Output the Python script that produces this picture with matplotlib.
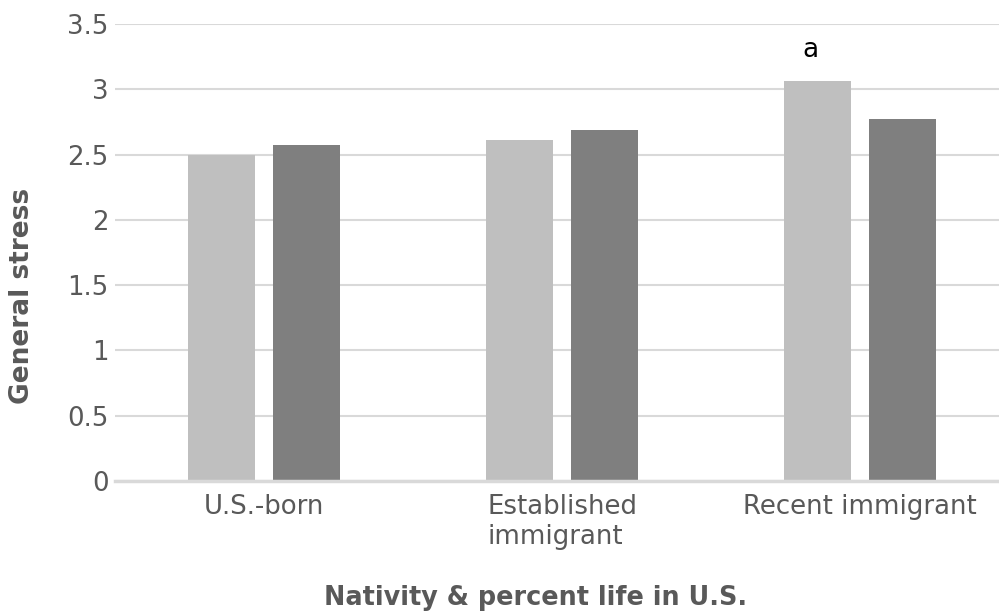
import matplotlib
matplotlib.use("Agg")
import matplotlib.pyplot as plt
import numpy as np

categories = ["U.S.-born", "Established\nimmigrant", "Recent immigrant"]
series_light = [2.50, 2.61, 3.06]
series_dark = [2.57, 2.69, 2.77]
annotations = ["", "", "a"]
y_ticks = [0, 0.5, 1, 1.5, 2, 2.5, 3, 3.5]
y_tick_labels = ["0", "0.5", "1", "1.5", "2", "2.5", "3", "3.5"]

plt.rcParams["font.family"] = ["DejaVu Sans"]

fig = plt.figure(figsize=(9.99, 6.13), dpi=100)
ax = fig.add_axes([115 / 999, 1 - 481 / 613, 894 / 999, (481 - 24) / 613])

x = np.arange(len(categories))
w = 0.225
off = 0.1426
ax.bar(x - off, series_light, width=w, color="#bfbfbf", zorder=3)
ax.bar(x + off, series_dark, width=w, color="#7f7f7f", zorder=3)

# significance marker above the light bar
for xi, v, t in zip(x, series_light, annotations):
    if t:
        ax.text(xi - off - 0.025, v + 0.145, t, ha="center", va="bottom",
                fontsize=19, color="black")

ax.set_xlim(-0.5, len(categories) - 0.5)
ax.set_ylim(0, 3.5)
ax.set_yticks(y_ticks)
ax.set_yticklabels(y_tick_labels)
ax.set_xticks(x)
ax.set_xticklabels(categories, multialignment="left")

ax.grid(axis="y", color="#d9d9d9", linewidth=1.5, zorder=0)
ax.set_axisbelow(True)
for s in ["top", "right", "left"]:
    ax.spines[s].set_visible(False)
ax.spines["bottom"].set_color("#d9d9d9")
ax.spines["bottom"].set_linewidth(2.5)
ax.spines["bottom"].set_zorder(4)

ax.tick_params(axis="both", length=0, labelsize=18.7, labelcolor="#595959")
ax.tick_params(axis="y", pad=4.5)
ax.tick_params(axis="x", pad=9)

fig.text(22 / 999, 1 - 296 / 613, "General stress", rotation=90, ha="center", va="center",
         fontsize=19, fontweight="bold", color="#595959")
fig.text(536 / 999, 1 - 598 / 613, "Nativity & percent life in U.S.", ha="center", va="center",
         fontsize=18.4, fontweight="bold", color="#595959")

fig.savefig("out.png", dpi=100)
